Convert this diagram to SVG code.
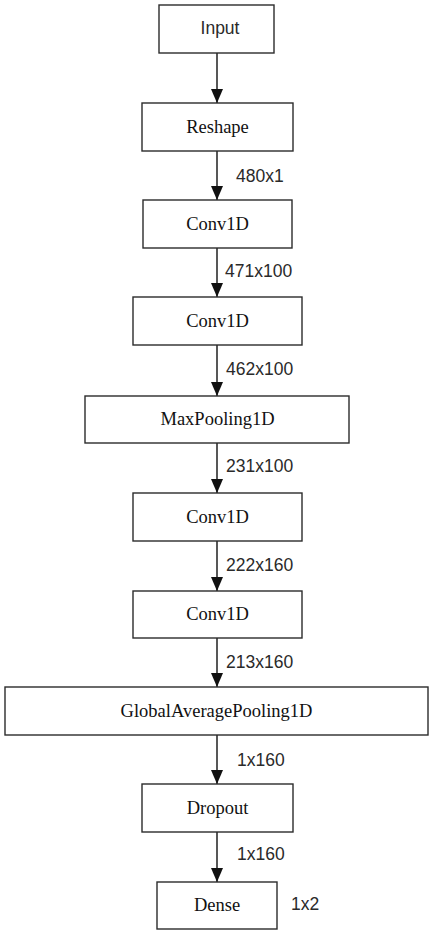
<svg xmlns="http://www.w3.org/2000/svg" width="434" height="936" viewBox="0 0 434 936">
<defs>
<style>
.box{fill:#ffffff;stroke:#2b2b2b;stroke-width:1.4}
.serif{font-family:"Liberation Serif","Times New Roman",serif;font-size:18.5px;fill:#111;text-anchor:middle}
.sans{font-family:"Liberation Sans",Arial,sans-serif;font-size:17.5px;fill:#2a2a2a}
.edge{stroke:#111;stroke-width:1.4;fill:none;marker-end:url(#arr)}
</style>
<marker id="arr" markerUnits="userSpaceOnUse" markerWidth="14" markerHeight="12" viewBox="0 0 14 12" refX="14" refY="6" orient="auto">
<path d="M0,0 L14,6 L0,12 Z" fill="#111"/>
</marker>
</defs>
<rect width="434" height="936" fill="#ffffff"/>
<g id="connectors">
<line class="edge" x1="217" y1="53" x2="217" y2="103"/>
<line class="edge" x1="217" y1="151" x2="217" y2="200"/>
<line class="edge" x1="217" y1="248" x2="217" y2="297"/>
<line class="edge" x1="217" y1="345" x2="217" y2="396"/>
<line class="edge" x1="217" y1="443" x2="217" y2="493"/>
<line class="edge" x1="217" y1="541" x2="217" y2="591"/>
<line class="edge" x1="217" y1="638" x2="217" y2="687"/>
<line class="edge" x1="217" y1="735" x2="217" y2="784"/>
<line class="edge" x1="217" y1="832" x2="217" y2="882"/>
<text class="sans" x="236" y="182">480x1</text>
<text class="sans" x="225" y="277">471x100</text>
<text class="sans" x="226" y="375">462x100</text>
<text class="sans" x="226" y="472">231x100</text>
<text class="sans" x="226" y="571">222x160</text>
<text class="sans" x="226" y="668">213x160</text>
<text class="sans" x="237" y="766">1x160</text>
<text class="sans" x="237" y="860">1x160</text>
<text class="sans" x="291" y="910">1x2</text>
</g>
<g id="input"><rect class="box" x="159" y="5" width="115" height="48"/><text class="sans" x="220" y="34" text-anchor="middle">Input</text></g>
<g id="reshape"><rect class="box" x="142" y="103" width="151" height="48"/><text class="serif" x="217.5" y="133">Reshape</text></g>
<g id="conv1d_1"><rect class="box" x="143" y="200" width="149" height="48"/><text class="serif" x="217.5" y="230">Conv1D</text></g>
<g id="conv1d_2"><rect class="box" x="133" y="297" width="169" height="48"/><text class="serif" x="217.5" y="327">Conv1D</text></g>
<g id="maxpooling1d"><rect class="box" x="85" y="396" width="264" height="47"/><text class="serif" x="217.5" y="425">MaxPooling1D</text></g>
<g id="conv1d_3"><rect class="box" x="133" y="493" width="169" height="48"/><text class="serif" x="217.5" y="523">Conv1D</text></g>
<g id="conv1d_4"><rect class="box" x="133" y="591" width="169" height="47"/><text class="serif" x="217.5" y="620">Conv1D</text></g>
<g id="globalaveragepooling1d"><rect class="box" x="5" y="687" width="423" height="48"/><text class="serif" x="216.5" y="717">GlobalAveragePooling1D</text></g>
<g id="dropout"><rect class="box" x="142" y="784" width="151" height="48"/><text class="serif" x="217.5" y="814">Dropout</text></g>
<g id="dense"><rect class="box" x="157" y="882" width="120" height="47"/><text class="serif" x="217" y="911">Dense</text></g>
</svg>
